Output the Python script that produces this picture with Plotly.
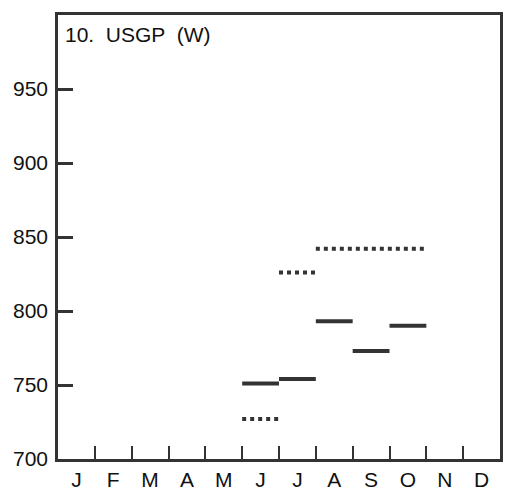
import plotly.graph_objects as go

months = ["J", "F", "M", "A", "M", "J", "J", "A", "S", "O", "N", "D"]
y_ticks = [700, 750, 800, 850, 900, 950]

# solid segments (month index start/end, value)
solid_start = [5, 6, 7, 8, 9]
solid_end = [6, 7, 8, 9, 10]
solid_vals = [751, 754, 793, 773, 790]

# dotted segments
dotted_start = [5, 6, 7]
dotted_end = [6, 7, 10]
dotted_vals = [727, 826, 842]

ink = "#333333"
fig = go.Figure()
for s, e, v in zip(solid_start, solid_end, solid_vals):
    fig.add_trace(go.Scatter(x=[s, e], y=[v, v], mode="lines",
                             line=dict(color=ink, width=4), showlegend=False, hoverinfo="skip"))
for s, e, v in zip(dotted_start, dotted_end, dotted_vals):
    fig.add_trace(go.Scatter(x=[s, e], y=[v, v], mode="lines",
                             line=dict(color=ink, width=4, dash="4px,4px"), showlegend=False, hoverinfo="skip"))

font = dict(family="Liberation Sans, Arial, sans-serif", size=21, color="#111111")
fig.update_layout(
    template="none",
    width=506, height=494,
    margin=dict(l=58, r=6, t=15, b=35),
    paper_bgcolor="white", plot_bgcolor="white",
    font=font,
    xaxis=dict(range=[0, 12], tickvals=[i + 0.5 for i in range(12)], ticktext=months,
               ticks="", showgrid=False, zeroline=False, automargin=False,
               showline=True, mirror=True, linecolor=ink, linewidth=2.5,
               ticklabelstandoff=0,
               minor=dict(tickvals=list(range(1, 12)), ticks="inside", ticklen=13,
                          tickwidth=2, tickcolor=ink, showgrid=False)),
    yaxis=dict(range=[700, 1000], tickvals=y_ticks, ticks="inside", ticklen=15,
               tickwidth=2.5, tickcolor=ink, showgrid=False, zeroline=False, automargin=False,
               showline=True, mirror=True, linecolor=ink, linewidth=2.5,
               ticklabelstandoff=3),
    annotations=[dict(text="10.  USGP  (W)", xref="paper", yref="paper",
                      x=0.012, y=0.987, xanchor="left", yanchor="top", showarrow=False,
                      font=dict(family="Liberation Sans, Arial, sans-serif", size=21, color="#111111"))],
)
fig.write_html("out.html")
